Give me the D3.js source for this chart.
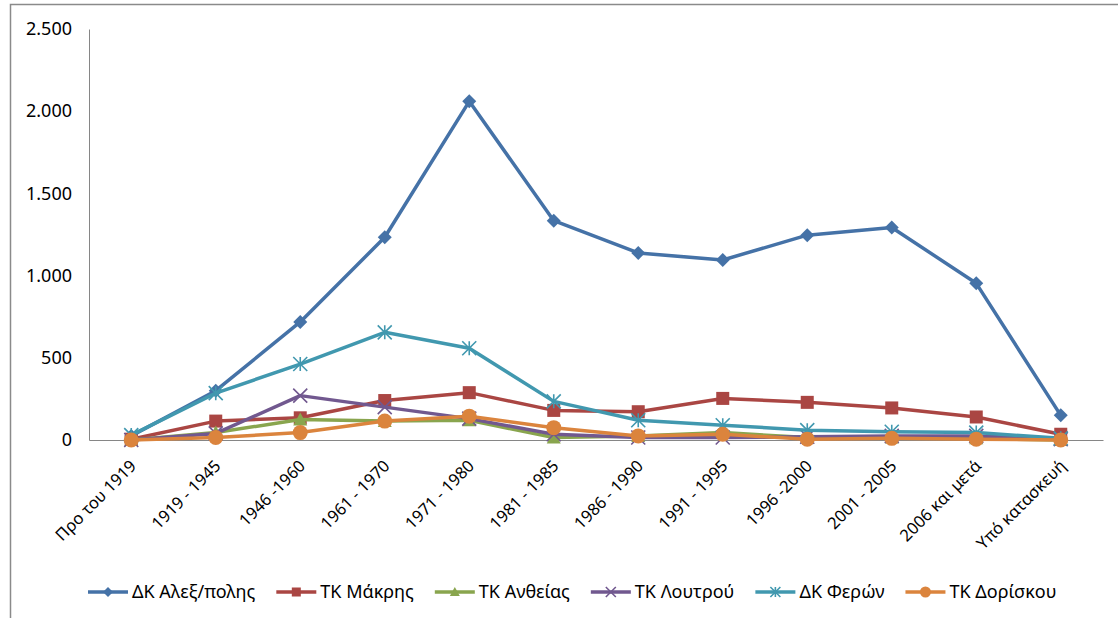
<!DOCTYPE html>
<html>
<head>
  <meta charset="UTF-8" />
  <title>Κτίρια ανά περίοδο κατασκευής</title>
  <script src="https://d3js.org/d3.v7.min.js"></script>
  <style>
    body { margin: 0; background: #fff; }
    svg { font-family: "Noto Sans", "Open Sans", sans-serif; }
    .tick-label { font-size: 18px; fill: #000; }
    .x-label { font-size: 16.5px; fill: #000; }
    .legend text { font-size: 18px; fill: #000; }
  </style>
</head>
<body>
<svg id="chart" width="1118" height="618"></svg>

<script>
  // Κατηγορίες (περίοδοι κατασκευής)
  const categories = ["Προ του 1919", "1919 - 1945", "1946 -1960", "1961 - 1970", "1971 - 1980",
    "1981 - 1985", "1986 - 1990", "1991 - 1995", "1996 -2000", "2001 - 2005", "2006 και μετά", "Υπό κατασκευή"];

  // Τιμές ανά σειρά (εκτίμηση από την εικόνα)
  const alexValues     = [25, 300, 718, 1233, 2060, 1334, 1138, 1095, 1246, 1293, 953, 150];
  const makrisValues   = [5, 115, 135, 240, 288, 180, 172, 253, 229, 195, 140, 35];
  const antheiaValues  = [0, 45, 125, 115, 120, 15, 25, 45, 15, 15, 10, 0];
  const loutrouValues  = [0, 40, 270, 200, 130, 35, 15, 15, 20, 25, 25, 5];
  const feresValues    = [30, 285, 462, 655, 558, 235, 120, 90, 60, 50, 45, 10];
  const doriskouValues = [0, 15, 45, 115, 145, 75, 25, 35, 5, 10, 5, 0];

  const seriesNames = ["ΔΚ Αλεξ/πολης", "ΤΚ Μάκρης", "ΤΚ Ανθείας", "ΤΚ Λουτρού", "ΔΚ  Φερών", "ΤΚ Δορίσκου"];
  const yTicks = [0, 500, 1000, 1500, 2000, 2500];

  const series = [
    { name: seriesNames[0], values: alexValues,     color: "#4572A7", marker: "diamond" },
    { name: seriesNames[1], values: makrisValues,   color: "#AA4643", marker: "square" },
    { name: seriesNames[2], values: antheiaValues,  color: "#89A54E", marker: "triangle" },
    { name: seriesNames[3], values: loutrouValues,  color: "#71588F", marker: "cross" },
    { name: seriesNames[4], values: feresValues,    color: "#4198AF", marker: "star" },
    { name: seriesNames[5], values: doriskouValues, color: "#DB843D", marker: "circle" }
  ];

  const svg = d3.select("#chart");
  const plotLeft = 89, plotRight = 1103, plotTop = 29, plotBottom = 440;

  // εξωτερικό πλαίσιο (κόβεται δεξιά και κάτω)
  svg.append("rect")
    .attr("x", 10.5).attr("y", 4.5)
    .attr("width", 1200).attr("height", 700)
    .attr("fill", "none").attr("stroke", "#8a8a8a").attr("stroke-width", 1.5);

  const x = d3.scaleBand().domain(categories).range([plotLeft, plotRight]).padding(0);
  const cx = d => x(d) + x.bandwidth() / 2;
  const y = d3.scaleLinear().domain([0, 2500]).range([plotBottom, plotTop]);

  const fmt = v => d3.format(",")(v).replace(/,/g, ".");

  // άξονας Υ
  const yAxis = svg.append("g").attr("transform", `translate(${plotLeft},0)`)
    .call(d3.axisLeft(y).tickValues(yTicks).tickSize(0).tickPadding(17).tickFormat(fmt));
  yAxis.select(".domain").attr("stroke", "#868686");
  yAxis.selectAll("text").attr("class", "tick-label");
  yAxis.attr("font-family", null).attr("font-size", null);

  // άξονας Χ
  const xAxis = svg.append("g").attr("transform", `translate(0,${plotBottom})`)
    .call(d3.axisBottom(x).tickSize(0).tickPadding(0));
  xAxis.attr("font-family", null).attr("font-size", null);
  xAxis.select(".domain").attr("stroke", "#868686");
  xAxis.selectAll("text")
    .attr("class", "x-label")
    .attr("text-anchor", "end")
    .attr("y", 0)
    .attr("dy", null)
    .attr("transform", "translate(6,27) rotate(-45)");

  // σύμβολα
  function drawMarker(g, type, color, s) {
    const h = s / 2;
    if (type === "diamond") {
      g.append("path").attr("d", `M0,${-h}L${h},0L0,${h}L${-h},0Z`).attr("fill", color);
    } else if (type === "square") {
      g.append("rect").attr("x", -h + 0.5).attr("y", -h + 0.5).attr("width", s - 1).attr("height", s - 1).attr("fill", color);
    } else if (type === "triangle") {
      g.append("path").attr("d", `M0,${-h}L${h},${h - 1}L${-h},${h - 1}Z`).attr("fill", color);
    } else if (type === "cross") {
      g.append("path").attr("d", `M${-h},${-h}L${h},${h}M${-h},${h}L${h},${-h}`)
        .attr("stroke", color).attr("stroke-width", 1.6);
    } else if (type === "star") {
      g.append("path").attr("d", `M${-h},${-h}L${h},${h}M${-h},${h}L${h},${-h}M0,${-h}L0,${h}`)
        .attr("stroke", color).attr("stroke-width", 1.6);
    } else if (type === "circle") {
      g.append("circle").attr("r", h).attr("fill", color);
    }
  }

  const line = d3.line().x(d => cx(d.cat)).y(d => y(d.v));

  series.forEach(sr => {
    const pts = categories.map((c, i) => ({ cat: c, v: sr.values[i] }));
    svg.append("path").datum(pts)
      .attr("d", line)
      .attr("fill", "none")
      .attr("stroke", sr.color)
      .attr("stroke-width", 3.5)
      .attr("stroke-linejoin", "round");
    pts.forEach(p => {
      const g = svg.append("g").attr("transform", `translate(${cx(p.cat)},${y(p.v)})`);
      drawMarker(g, sr.marker, sr.color, sr.marker === "circle" ? 15 : 14);
    });
  });

  // υπόμνημα
  const legend = svg.append("g").attr("class", "legend");
  let lx = 88;
  const ly = 592;
  series.forEach(sr => {
    const g = legend.append("g").attr("transform", `translate(${lx},${ly})`);
    g.append("line").attr("x1", 0).attr("x2", 40).attr("y1", 0).attr("y2", 0)
      .attr("stroke", sr.color).attr("stroke-width", 3.5);
    const m = g.append("g").attr("transform", "translate(20,0)");
    drawMarker(m, sr.marker, sr.color, sr.marker === "circle" ? 11 : 10);
    const t = g.append("text").attr("x", 44).attr("y", 0).attr("dy", "0.35em").text(sr.name);
    lx += 44 + t.node().getComputedTextLength() + 21;
  });
</script>
</body>
</html>
